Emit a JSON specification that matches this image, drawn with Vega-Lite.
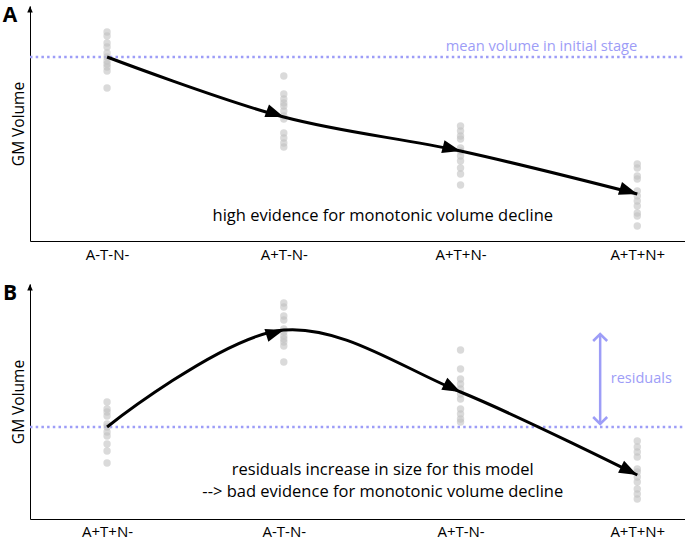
{
  "$schema": "https://vega.github.io/schema/vega-lite/v6.json",
  "padding": {"left": 2, "top": 5, "right": 0, "bottom": 0},
  "spacing": 21,
  "config": {
    "view": {"stroke": null},
    "font": "Open Sans",
    "axisX": {"domainColor": "#000000", "domainWidth": 1, "ticks": false, "grid": false, "labelFontSize": 15, "labelColor": "#000000", "labelPadding": 6, "labelOverlap": false, "labelFlush": false, "title": null, "values": [0, 1, 2, 3]},
    "axisY": {"domainColor": "#000000", "domainWidth": 1, "ticks": false, "grid": false, "labels": false, "titleFontSize": 15.5, "titleFontWeight": "normal", "titleColor": "#000000", "titlePadding": 4}
  },
  "datasets": {
    "obsA": [
      {"stage": 0, "vol": 209}, {"stage": 0, "vol": 205}, {"stage": 0, "vol": 198}, {"stage": 0, "vol": 194}, {"stage": 0, "vol": 188}, {"stage": 0, "vol": 184}, {"stage": 0, "vol": 180}, {"stage": 0, "vol": 177}, {"stage": 0, "vol": 174}, {"stage": 0, "vol": 170}, {"stage": 0, "vol": 153},
      {"stage": 1, "vol": 165}, {"stage": 1, "vol": 147}, {"stage": 1, "vol": 142}, {"stage": 1, "vol": 138}, {"stage": 1, "vol": 135}, {"stage": 1, "vol": 130}, {"stage": 1, "vol": 125}, {"stage": 1, "vol": 122}, {"stage": 1, "vol": 108}, {"stage": 1, "vol": 103}, {"stage": 1, "vol": 98}, {"stage": 1, "vol": 94},
      {"stage": 2, "vol": 115}, {"stage": 2, "vol": 110}, {"stage": 2, "vol": 105}, {"stage": 2, "vol": 102}, {"stage": 2, "vol": 93}, {"stage": 2, "vol": 90}, {"stage": 2, "vol": 85}, {"stage": 2, "vol": 80}, {"stage": 2, "vol": 73}, {"stage": 2, "vol": 67}, {"stage": 2, "vol": 56},
      {"stage": 3, "vol": 77}, {"stage": 3, "vol": 73}, {"stage": 3, "vol": 65}, {"stage": 3, "vol": 62}, {"stage": 3, "vol": 50}, {"stage": 3, "vol": 45}, {"stage": 3, "vol": 40}, {"stage": 3, "vol": 35}, {"stage": 3, "vol": 28}, {"stage": 3, "vol": 25}, {"stage": 3, "vol": 15}
    ],
    "fitA": [{"stage": 0, "vol": 184}, {"stage": 1, "vol": 124}, {"stage": 2, "vol": 90}, {"stage": 3, "vol": 47}],
    "obsB": [
      {"stage": 0, "vol": 117}, {"stage": 0, "vol": 110}, {"stage": 0, "vol": 107}, {"stage": 0, "vol": 103}, {"stage": 0, "vol": 95}, {"stage": 0, "vol": 92}, {"stage": 0, "vol": 87}, {"stage": 0, "vol": 83}, {"stage": 0, "vol": 75}, {"stage": 0, "vol": 68}, {"stage": 0, "vol": 56},
      {"stage": 1, "vol": 216}, {"stage": 1, "vol": 212}, {"stage": 1, "vol": 203}, {"stage": 1, "vol": 199}, {"stage": 1, "vol": 190}, {"stage": 1, "vol": 187}, {"stage": 1, "vol": 183}, {"stage": 1, "vol": 180}, {"stage": 1, "vol": 177}, {"stage": 1, "vol": 173}, {"stage": 1, "vol": 157},
      {"stage": 2, "vol": 169}, {"stage": 2, "vol": 150}, {"stage": 2, "vol": 140}, {"stage": 2, "vol": 135}, {"stage": 2, "vol": 130}, {"stage": 2, "vol": 125}, {"stage": 2, "vol": 120}, {"stage": 2, "vol": 110}, {"stage": 2, "vol": 105}, {"stage": 2, "vol": 100}, {"stage": 2, "vol": 97},
      {"stage": 3, "vol": 78}, {"stage": 3, "vol": 72}, {"stage": 3, "vol": 67}, {"stage": 3, "vol": 62}, {"stage": 3, "vol": 50}, {"stage": 3, "vol": 47}, {"stage": 3, "vol": 42}, {"stage": 3, "vol": 37}, {"stage": 3, "vol": 30}, {"stage": 3, "vol": 25}, {"stage": 3, "vol": 20}
    ],
    "fitB": [{"stage": 0, "vol": 92}, {"stage": 1, "vol": 189}, {"stage": 2, "vol": 127}, {"stage": 3, "vol": 44}],
    "notesA": [
      {"stage": 3.0, "vol": 190, "label": "mean volume in initial stage", "kind": "purple"},
      {"stage": 1.56, "vol": 25, "label": "high evidence for monotonic volume decline", "kind": "black"}
    ],
    "notesB": [
      {"stage": 1.56, "vol": 49, "label": "residuals increase in size for this model"},
      {"stage": 1.56, "vol": 27, "label": "--> bad evidence for monotonic volume decline"}
    ],
    "resid": [{"stage": 2.79, "vol": 95, "vol2": 185, "label": "residuals", "labelStage": 2.85, "labelVol": 140}]
  },
  "vconcat": [
    {
      "width": 655,
      "height": 235,
      "encoding": {
        "x": {"field": "stage", "type": "quantitative", "scale": {"domain": [-0.436, 3.27], "nice": false, "zero": false}, "axis": {"labelExpr": "['A-T-N-','A+T-N-','A+T+N-','A+T+N+'][datum.value]"}},
        "y": {"field": "vol", "type": "quantitative", "scale": {"domain": [0, 235], "nice": false, "zero": false}, "axis": {"title": "GM Volume"}}
      },
      "layer": [
        {"data": {"name": "fitA"}, "transform": [{"filter": "datum.stage == 0"}], "mark": {"type": "rule", "color": "#9d9df7", "strokeWidth": 2.5, "strokeDash": [2.5, 3.2]}, "encoding": {"x": {"datum": -0.436}, "x2": {"datum": 3.27}}},
        {"data": {"name": "obsA"}, "mark": {"type": "circle", "size": 55, "color": "#c2c2c2", "opacity": 0.6}},
        {"data": {"name": "fitA"}, "mark": {"type": "line", "color": "#000000", "strokeWidth": 3, "interpolate": "catmull-rom"}},
        {"data": {"name": "fitA"}, "transform": [{"filter": "datum.stage == 1"}], "mark": {"type": "point", "shape": "M0,0L-2.6,-0.95L-2.6,0.95Z", "size": 196, "filled": true, "color": "#000000", "opacity": 1, "angle": 20}},
        {"data": {"name": "fitA"}, "transform": [{"filter": "datum.stage == 2"}], "mark": {"type": "point", "shape": "M0,0L-2.6,-0.95L-2.6,0.95Z", "size": 196, "filled": true, "color": "#000000", "opacity": 1, "angle": 14}},
        {"data": {"name": "fitA"}, "transform": [{"filter": "datum.stage == 3"}], "mark": {"type": "point", "shape": "M0,0L-2.6,-0.95L-2.6,0.95Z", "size": 196, "filled": true, "color": "#000000", "opacity": 1, "angle": 18}},
        {"data": {"name": "fitA"}, "transform": [{"filter": "datum.stage == 0"}], "mark": {"type": "point", "shape": "M0,0L0.55,1.3L-0.55,1.3Z", "size": 100, "filled": true, "color": "#000000", "opacity": 1}, "encoding": {"x": {"datum": -0.436}, "y": {"datum": 235}}},
        {"data": {"name": "fitA"}, "transform": [{"filter": "datum.stage == 0"}], "mark": {"type": "text", "text": "A", "align": "center", "baseline": "top", "dx": -20, "dy": -1, "fontSize": 21, "fontWeight": "bold", "color": "#000000"}, "encoding": {"x": {"datum": -0.436}, "y": {"datum": 235}}},
        {"data": {"name": "notesA"}, "transform": [{"filter": "datum.kind == 'purple'"}], "mark": {"type": "text", "align": "right", "baseline": "alphabetic", "fontSize": 14.7, "color": "#9d9df7"}, "encoding": {"text": {"field": "label"}}},
        {"data": {"name": "notesA"}, "transform": [{"filter": "datum.kind == 'black'"}], "mark": {"type": "text", "align": "center", "baseline": "middle", "fontSize": 16.5, "color": "#000000"}, "encoding": {"text": {"field": "label"}}}
      ]
    },
    {
      "width": 655,
      "height": 235,
      "encoding": {
        "x": {"field": "stage", "type": "quantitative", "scale": {"domain": [-0.436, 3.27], "nice": false, "zero": false}, "axis": {"labelExpr": "['A+T+N-','A-T-N-','A+T-N-','A+T+N+'][datum.value]", "labelPadding": 5}},
        "y": {"field": "vol", "type": "quantitative", "scale": {"domain": [0, 235], "nice": false, "zero": false}, "axis": {"title": "GM Volume"}}
      },
      "layer": [
        {"data": {"name": "fitB"}, "transform": [{"filter": "datum.stage == 0"}], "mark": {"type": "rule", "color": "#9d9df7", "strokeWidth": 2.5, "strokeDash": [2.5, 3.2]}, "encoding": {"x": {"datum": -0.436}, "x2": {"datum": 3.27}}},
        {"data": {"name": "obsB"}, "mark": {"type": "circle", "size": 55, "color": "#c2c2c2", "opacity": 0.6}},
        {"data": {"name": "fitB"}, "mark": {"type": "line", "color": "#000000", "strokeWidth": 3, "interpolate": "catmull-rom"}},
        {"data": {"name": "fitB"}, "transform": [{"filter": "datum.stage == 1"}], "mark": {"type": "point", "shape": "M0,0L-2.6,-0.95L-2.6,0.95Z", "size": 196, "filled": true, "color": "#000000", "opacity": 1, "angle": -17}},
        {"data": {"name": "fitB"}, "transform": [{"filter": "datum.stage == 2"}], "mark": {"type": "point", "shape": "M0,0L-2.6,-0.95L-2.6,0.95Z", "size": 196, "filled": true, "color": "#000000", "opacity": 1, "angle": 27}},
        {"data": {"name": "fitB"}, "transform": [{"filter": "datum.stage == 3"}], "mark": {"type": "point", "shape": "M0,0L-2.6,-0.95L-2.6,0.95Z", "size": 196, "filled": true, "color": "#000000", "opacity": 1, "angle": 27}},
        {"data": {"name": "fitB"}, "transform": [{"filter": "datum.stage == 0"}], "mark": {"type": "point", "shape": "M0,0L0.55,1.3L-0.55,1.3Z", "size": 100, "filled": true, "color": "#000000", "opacity": 1}, "encoding": {"x": {"datum": -0.436}, "y": {"datum": 235}}},
        {"data": {"name": "fitB"}, "transform": [{"filter": "datum.stage == 0"}], "mark": {"type": "text", "text": "B", "align": "center", "baseline": "top", "dx": -20, "dy": -1, "fontSize": 21, "fontWeight": "bold", "color": "#000000"}, "encoding": {"x": {"datum": -0.436}, "y": {"datum": 235}}},
        {"data": {"name": "resid"}, "mark": {"type": "rule", "color": "#9d9df7", "strokeWidth": 2.5}, "encoding": {"y2": {"field": "vol2"}}},
        {"data": {"name": "resid"}, "mark": {"type": "point", "shape": "M-1,1L0,0L1,1", "size": 196, "filled": false, "color": "#9d9df7", "strokeWidth": 2.5, "opacity": 1}, "encoding": {"y": {"field": "vol2", "type": "quantitative"}}},
        {"data": {"name": "resid"}, "mark": {"type": "point", "shape": "M-1,-1L0,0L1,-1", "size": 196, "filled": false, "color": "#9d9df7", "strokeWidth": 2.5, "opacity": 1}},
        {"data": {"name": "resid"}, "mark": {"type": "text", "align": "left", "baseline": "middle", "fontSize": 14.5, "color": "#9d9df7"}, "encoding": {"x": {"field": "labelStage", "type": "quantitative"}, "y": {"field": "labelVol", "type": "quantitative"}, "text": {"field": "label"}}},
        {"data": {"name": "notesB"}, "mark": {"type": "text", "align": "center", "baseline": "middle", "fontSize": 16.5, "color": "#000000"}, "encoding": {"text": {"field": "label"}}}
      ]
    }
  ]
}
